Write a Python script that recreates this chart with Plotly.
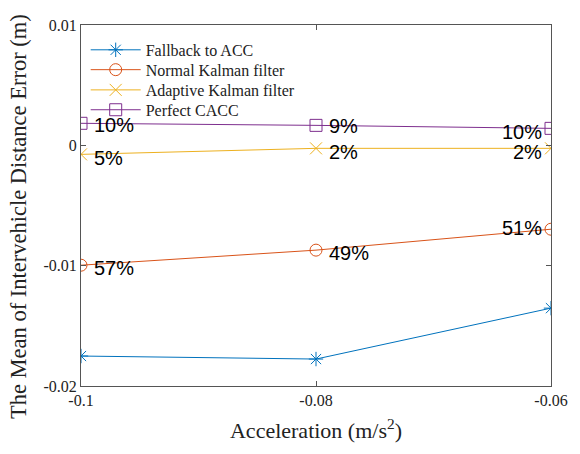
import plotly.graph_objects as go

accel = [-0.1, -0.08, -0.06]
fallback = [-0.01751, -0.01776, -0.01353]
normal_kf = [-0.00996, -0.00871, -0.00697]
adaptive_kf = [-0.00075, -0.00025, -0.00025]
perfect = [0.00183, 0.00166, 0.00141]

names = ["Fallback to ACC", "Normal Kalman filter", "Adaptive Kalman filter", "Perfect CACC"]
colors = ["#0072BD", "#D95319", "#EDB120", "#7E2F8E"]
symbols = ["asterisk-open", "circle-open", "x-thin-open", "square-open"]
series = [fallback, normal_kf, adaptive_kf, perfect]

labels_perfect = ["10%", "9%", "10%"]
labels_adaptive = ["5%", "2%", "2%"]
labels_normal = ["57%", "49%", "51%"]

SERIF = "Times New Roman, Liberation Serif"
legend_ids = ["legend", "legend2", "legend3", "legend4"]
legend_y = [0.931, 0.876, 0.820, 0.765]

fig = go.Figure()
for name, c, s, ys, lid in zip(names, colors, symbols, series, legend_ids):
    fig.add_trace(go.Scatter(
        x=accel, y=ys, mode="lines+markers", name=name, legend=lid,
        line=dict(color=c, width=1),
        marker=dict(symbol=s, size=12, color=c, line=dict(color=c, width=1)),
    ))

ann = []
def add_labels(ys, texts, yshifts, xshifts):
    for i, (x, y, t) in enumerate(zip(accel, ys, texts)):
        ann.append(dict(x=x, y=y, text=t, showarrow=False,
                        xanchor="left" if i < 2 else "right",
                        xshift=xshifts[i], yshift=yshifts[i],
                        font=dict(family="Arial", size=20, color="black")))

add_labels(perfect, labels_perfect, [-2, -1, -4], [11, 11, -7])
add_labels(adaptive_kf, labels_adaptive, [-4, -4, -4], [11, 11, -7])
add_labels(normal_kf, labels_normal, [-3, -3, 1], [11, 11, -7])

ann.append(dict(text="The Mean of Intervehicle Distance Error (m)", textangle=-90,
                xref="paper", yref="paper", x=0, y=0.468, xanchor="center", yanchor="middle",
                xshift=-63, showarrow=False,
                font=dict(family=SERIF, size=22.5, color="#222")))

layout_legends = {}
for lid, ly in zip(legend_ids, legend_y):
    layout_legends[lid] = dict(x=0.01, y=ly, xanchor="left", yanchor="middle",
                               bgcolor="rgba(255,255,255,0)", borderwidth=0,
                               font=dict(family=SERIF, size=16, color="#222"),
                               itemwidth=50)

fig.update_layout(
    width=580, height=454,
    margin=dict(l=81, r=22, t=25, b=68),
    paper_bgcolor="white", plot_bgcolor="white",
    annotations=ann,
    showlegend=True,
    font=dict(family=SERIF, color="#222"),
    **layout_legends,
)
fig.update_xaxes(
    range=[-0.1, -0.06], tickvals=accel, ticktext=["-0.1", "-0.08", "-0.06"],
    showgrid=False, zeroline=False, showline=True, linecolor="#555", linewidth=1,
    mirror="ticks", ticks="inside", ticklen=5, tickcolor="#555",
    tickfont=dict(family=SERIF, size=16, color="#222"),
    title=dict(text="Acceleration (m/s<sup>2</sup>)", font=dict(family=SERIF, size=22, color="#222"), standoff=14),
)
fig.update_yaxes(
    range=[-0.02, 0.01], tickvals=[-0.02, -0.01, 0, 0.01], ticktext=["-0.02", "-0.01", "0", "0.01"],
    showgrid=False, zeroline=False, showline=True, linecolor="#555", linewidth=1,
    mirror="ticks", ticks="inside", ticklen=5, tickcolor="#555",
    tickfont=dict(family=SERIF, size=16, color="#222"),
)
fig.write_html("out.html")
